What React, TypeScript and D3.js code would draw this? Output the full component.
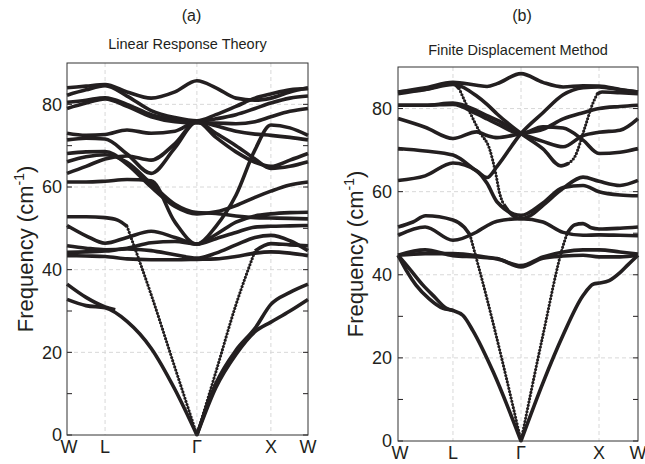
import * as d3 from 'd3';

type Pt = [number, number];

const kLabels = ['W', 'L', 'Γ', 'X', 'W'];
const freqLabels = [0, 20, 40, 60, 80];
const freqTicks = [0, 10, 20, 30, 40, 50, 60, 70, 80];

// ---- panel (a): linear response ----
const kTicksA = [0, 15.8, 53.9, 84.6, 100];
const kGridA = [0, 7.9, 15.8, 24.9, 34.9, 44.8, 53.9, 61.8, 70.1, 78, 84.6, 92.5, 100];
const opticalA = [
  [84, 84.4, 84.8, 83, 81.5, 83, 85.7, 84, 81.5, 81, 81.5, 83, 84],
  [82.2, 83.5, 84.5, 82, 78.5, 76.8, 76, 77.5, 79.5, 81.5, 82.5, 83.5, 83.8],
  [80.5, 81, 81.6, 80, 77.5, 76.3, 75.8, 76.5, 77.5, 79, 80.3, 81.5, 82],
  [79, 80.3, 81.3, 79.5, 77, 75.8, 75.5, 75.5, 75.3, 75.8, 77, 78.3, 79],
  [73, 72.5, 72.7, 73.8, 73, 73.5, 75.8, 74.8, 73.5, 72.8, 72.5, 72, 71.4],
  [71.4, 71.8, 71.6, 68, 63.3, 69.5, 75.8, 72, 68.5, 66, 65, 66.5, 68.1],
  [63.3, 65, 66.8, 67.5, 66.5, 70.5, 75.8, 73, 70, 66.8, 64.5, 65, 66.1],
  [68.1, 68.5, 68.6, 65.5, 60, 55.3, 53.5, 54, 55.5, 57.5, 59, 60.5, 61.2],
  [66.1, 67.3, 67.8, 66, 60.8, 55.8, 53.8, 53.6, 53, 52.6, 52.5, 52.4, 52.3],
  [61.2, 61.2, 61.4, 61.8, 61.5, 51.5, 46.2, 48.5, 51.5, 53, 53.5, 53.8, 53.9],
  [50.7, 48.2, 46.4, 47.8, 49.3, 47.8, 46.2, 50.5, 58, 69, 75, 74.3, 72.5],
  [45.8, 45.2, 44.8, 45.2, 46.5, 46.8, 46.2, 47.5, 49, 50.3, 50.5, 50.6, 50.7],
  [44.2, 44.3, 44.5, 45, 44.6, 43.6, 42.8, 44, 46, 47.8, 48.3, 47, 44.6],
  [43.4, 43.3, 43.2, 42.6, 42.4, 42.4, 42.5, 42.6, 43.2, 44, 44.3, 44, 43.4],
];
const piecesA: Pt[][] = [
  [[0, 32.8], [7.9, 31.3], [15.8, 30.8], [24.9, 27.5], [34.9, 21], [44.8, 11], [53.9, 0]],
  [[0, 36.5], [7.9, 33.3], [15.8, 31], [20, 30.3]],
  [[53.9, 0], [61.8, 11.5], [70.1, 19.5], [78, 25], [84.6, 27.3], [92.5, 30], [100, 32.8]],
  [[53.9, 0], [61.8, 12.5], [70.1, 20.5], [78, 25.8], [84.6, 31.6], [92.5, 34.5], [100, 36.5]],
  [[0, 52.8], [7.9, 52.8], [15.8, 52.6], [21, 52], [24.9, 50.5]],
  [[78, 44.5], [84.6, 46.3], [92.5, 46], [100, 45.8]],
];
const dottedA: Pt[][] = [
  [[24.9, 50.5], [34.9, 34], [44.8, 16.3], [53.9, 0]],
  [[53.9, 0], [61.8, 15.3], [70.1, 31.5], [78, 44.5]],
];

// ---- panel (b): finite displacement ----
const kTicksB = [0, 22.9, 51.25, 83.75, 100];
const kGridB = [0, 11.3, 22.9, 32.8, 37.1, 41.3, 51.25, 60.4, 68.8, 77.1, 83.75, 92.5, 100];
const opticalB = [
  [84, 85, 86.3, 85.6, 85.3, 86, 88.4, 86.3, 85.2, 85.5, 85.4, 84.6, 84],
  [80.8, 80.8, 81.3, 79.5, 78.3, 77.2, 74, 72.1, 70.8, 73.5, 74.3, 74.8, 77.6],
  [80.8, 80.8, 81, 78.7, 77.5, 76.3, 74, 75.6, 75.3, 72.4, 69.2, 69.5, 70.4],
  [77.6, 75.5, 72.8, 74.4, 73.5, 73, 74, 75, 77.5, 79, 80, 80.5, 80.8],
  [70.4, 69.8, 68.8, 65, 63.4, 66.1, 74, 79, 83.3, 85, 85.2, 84.5, 84],
  [62.7, 63.8, 66.9, 65, 62, 57.5, 54.3, 57.3, 61, 61.5, 60, 59.2, 59],
  [49.5, 51.5, 48.3, 50.3, 51.8, 52.9, 53.5, 52.7, 50.2, 49.5, 49.6, 49.5, 49.4],
  [44.7, 45.1, 45.1, 44.6, 44.2, 43.9, 41.9, 44, 44.5, 44.7, 44.3, 44.3, 44.7],
  [44.7, 46, 44.6, 44.3, 44.1, 43.8, 42.2, 44.3, 45.5, 46, 46, 45.5, 45],
];
const piecesB: Pt[][] = [
  [[0, 83.6], [11.3, 84.6], [22.9, 86], [25.5, 84.8]],
  [[44, 57], [47.5, 54.4], [51.25, 53.5], [55, 54.2], [60.4, 56.7], [68.8, 60.8], [77.1, 63.5], [83.75, 62.5], [92.5, 61.5], [100, 62.7]],
  [[0, 84], [11.3, 84.6], [22.9, 85.8], [32.8, 83], [37.1, 81], [41.3, 78.7], [51.25, 74], [60.4, 70.3], [67.9, 66.2], [71, 66.8]],
  [[83, 83.5], [85, 84], [92.5, 83.8], [100, 83.6]],
  [[0, 44.7], [3.5, 41], [7.5, 37.5], [13, 34.2], [18.75, 31.9], [22.9, 31.4], [27.1, 30.2], [31.25, 26.5], [39.6, 16.7], [51.25, 0]],
  [[0, 44.7], [5, 41.3], [10.4, 37.5], [15, 34.8], [20, 32], [22.9, 31.4]],
  [[51.25, 0], [60.4, 14], [68.8, 25.5], [77.1, 35], [81.5, 37.8], [83.75, 38], [88, 38.6], [92.5, 40.5], [96, 42.5], [100, 44.7]],
  [[0, 51.5], [6.25, 52.7], [11.5, 54.2], [22.9, 53.2], [27.5, 51.5], [30, 49.6]],
  [[70.5, 50], [73.5, 52], [77.1, 52.3], [80.5, 51.3], [83.75, 51], [92.5, 51.2], [100, 51.5]],
];
const dottedB: Pt[][] = [
  [[30, 49.6], [37.1, 34.2], [44.2, 17.5], [51.25, 0]],
  [[51.25, 0], [60.4, 25.5], [68.8, 47], [70.5, 50]],
  [[25.5, 84.8], [29.9, 79.2], [34.1, 74.3], [38.2, 70.2], [40.5, 65], [42.4, 59.5], [44, 57]],
  [[71, 66.8], [73.75, 68.5], [77.9, 75.5], [81, 81], [83, 83.5]],
];

const ink = '#231f20';
const font = 'Liberation Sans, Arial, Helvetica, sans-serif';

function Panel(props: {
  tag: string; title: string; left: number; right: number; top: number; bottom: number;
  tagY: number; titleY: number; labelX: number; labelGap: number;
  kTicks: number[]; kGrid: number[]; optical: number[][]; pieces: Pt[][]; dotted: Pt[][];
}) {
  const p = props;
  const x = d3.scaleLinear().domain([0, 100]).range([p.left, p.right]);
  const y = d3.scaleLinear().domain([0, 90]).range([p.bottom, p.top]);
  const line = d3.line<Pt>().x(d => x(d[0])).y(d => y(d[1])).curve(d3.curveMonotoneX);
  const solid: Pt[][] = [
    ...p.optical.map(v => p.kGrid.map((k, i) => [k, v[i]] as Pt)),
    ...p.pieces,
  ];
  const cx = (p.left + p.right) / 2;
  const cy = (p.top + p.bottom) / 2;
  return (
    <g>
      <text x={cx + 4} y={p.tagY} textAnchor="middle" fontSize={16} fill={ink}>{p.tag}</text>
      <text x={cx} y={p.titleY} textAnchor="middle" fontSize={14.5} fill={ink}>{p.title}</text>
      {p.kTicks.slice(1, -1).map((k, i) => (
        <line key={'gx' + i} x1={x(k)} x2={x(k)} y1={p.top} y2={p.bottom} stroke="#d8d8d8" strokeDasharray="4 3" />
      ))}
      {freqLabels.slice(1).map(f => (
        <line key={'gy' + f} x1={p.left} x2={p.right} y1={y(f)} y2={y(f)} stroke="#d8d8d8" strokeDasharray="4 3" />
      ))}
      {freqTicks.map(f => (
        <g key={'t' + f}>
          <line x1={p.left} x2={p.left + 5} y1={y(f)} y2={y(f)} stroke={ink} />
          <line x1={p.right - 5} x2={p.right} y1={y(f)} y2={y(f)} stroke={ink} />
        </g>
      ))}
      {solid.map((d, i) => (
        <path key={'b' + i} d={line(d) || ''} fill="none" stroke={ink} strokeWidth={3.6} />
      ))}
      {p.dotted.map((d, i) => (
        <g key={'d' + i}>
          <path d={line(d) || ''} fill="none" stroke={ink} strokeWidth={1} />
          <path d={line(d) || ''} fill="none" stroke={ink} strokeWidth={3.2} strokeLinecap="round" strokeDasharray="0 3.3" />
        </g>
      ))}
      <rect x={p.left} y={p.top} width={p.right - p.left} height={p.bottom - p.top} fill="none" stroke="#333" strokeWidth={1} />
      {freqLabels.map(f => (
        <text key={'yl' + f} x={p.left - p.labelGap} y={y(f)} dy="0.35em" textAnchor="end" fontSize={18} fill={ink}>{f}</text>
      ))}
      {p.kTicks.map((k, i) => (
        <text key={'xl' + i} x={x(k) + (i === 0 ? 2 : 0)} y={p.bottom + 18} textAnchor="middle" fontSize={18} fill={ink}>{kLabels[i]}</text>
      ))}
      <text transform={`translate(${p.labelX},${cy}) rotate(-90)`} textAnchor="middle" fontSize={22} fill={ink}>
        <tspan>Frequency (cm</tspan>
        <tspan dy={-9} fontSize={14}>-1</tspan>
        <tspan dy={9}>)</tspan>
      </text>
    </g>
  );
}

export default function App() {
  return (
    <svg width={645} height={464} style={{ position: 'absolute', left: 0, top: 0, background: '#fff' }} fontFamily={font}>
      <rect width={645} height={464} fill="#fff" />
      <Panel tag="(a)" title="Linear Response Theory" left={67} right={308} top={63} bottom={435}
        tagY={21} titleY={49} labelX={33} labelGap={5}
        kTicks={kTicksA} kGrid={kGridA} optical={opticalA} pieces={piecesA} dotted={dottedA} />
      <Panel tag="(b)" title="Finite Displacement Method" left={398} right={638} top={67} bottom={441}
        tagY={21} titleY={55} labelX={363} labelGap={6}
        kTicks={kTicksB} kGrid={kGridB} optical={opticalB} pieces={piecesB} dotted={dottedB} />
    </svg>
  );
}
